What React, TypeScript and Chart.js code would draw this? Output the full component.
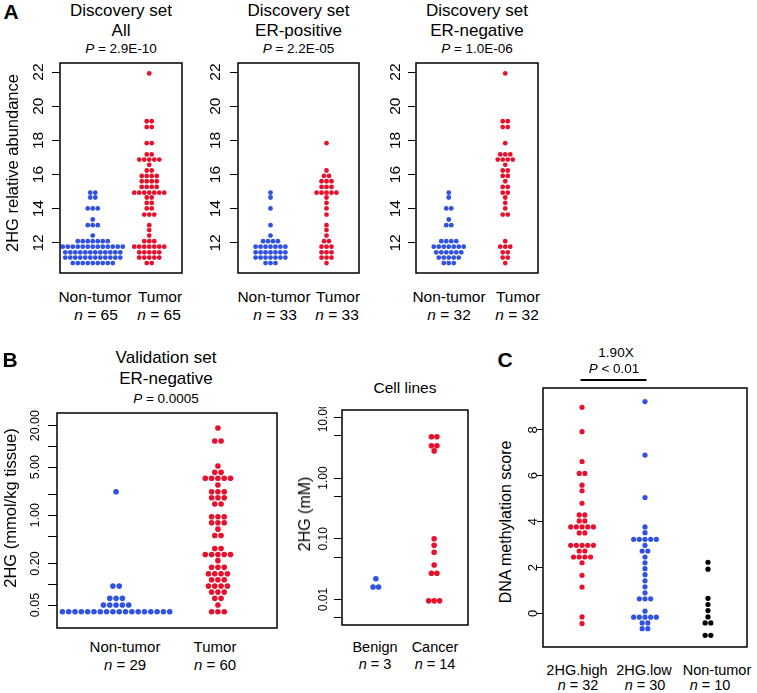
import React, { useEffect, useRef } from "react";
import { Chart, registerables } from "chart.js";
Chart.register(...registerables);

const FONT = '"Liberation Sans", Arial, Helvetica, sans-serif';
const RED = "#e8112d";
const BLUE = "#2f52e0";
const BLACK = "#000000";

// ---------- Panel A (Discovery set, 2HG relative abundance) ----------
const aTicks = [12, 14, 16, 18, 20, 22];
const aTickLabels = ["12", "14", "16", "18", "20", "22"];

const a1NonTumorLevels = [14.94, 14.66, 14.02, 13.37, 13.04, 12.43, 12.1, 11.78, 11.45, 11.14, 10.82];
const a1NonTumorCounts = [2, 2, 3, 1, 3, 1, 7, 13, 12, 12, 9];
const a1TumorLevels = [21.92, 19.12, 18.78, 17.84, 17.18, 16.88, 16.57, 16.24, 15.92, 15.61, 15.28, 14.94, 14.66, 14.34, 14.02, 13.66, 13.04, 12.75, 12.43, 12.1, 11.78, 11.45, 11.14, 10.82];
const a1TumorCounts = [1, 2, 2, 2, 2, 5, 1, 2, 4, 4, 4, 7, 2, 2, 2, 3, 1, 1, 1, 3, 7, 5, 5, 2];

const a2NonTumorLevels = [14.94, 14.66, 14.02, 13.04, 12.43, 12.1, 11.78, 11.45, 11.14, 10.82];
const a2NonTumorCounts = [1, 1, 1, 1, 1, 4, 7, 7, 7, 3];
const a2TumorLevels = [17.84, 16.24, 15.92, 15.61, 15.28, 14.94, 14.66, 14.34, 14.02, 13.66, 13.04, 12.75, 12.43, 12.1, 11.78, 11.45, 11.14, 10.82];
const a2TumorCounts = [1, 1, 2, 3, 3, 5, 1, 1, 1, 1, 1, 1, 1, 2, 3, 3, 3, 1];

const a3NonTumorLevels = [14.94, 14.66, 14.02, 13.37, 13.04, 12.1, 11.78, 11.45, 11.14, 10.82];
const a3NonTumorCounts = [1, 1, 2, 1, 2, 4, 7, 6, 5, 3];
const a3TumorLevels = [21.92, 19.12, 18.78, 17.84, 17.18, 16.88, 16.57, 16.24, 15.92, 15.61, 15.28, 14.94, 14.66, 14.34, 14.02, 13.66, 12.1, 11.78, 11.45, 11.14, 10.82];
const a3TumorCounts = [1, 2, 2, 1, 3, 4, 1, 2, 2, 1, 2, 2, 1, 1, 1, 2, 1, 3, 2, 2, 1];

// ---------- Panel B (Validation set, log scale) ----------
const b1Ticks = [0.05, 0.1, 0.2, 0.5, 1, 2, 5, 10, 20];
const b1TickLabels = ["0.05", "", "0.20", "", "1.00", "", "5.00", "", "20.00"];
const b1NonTumorLevels = [2.2, 0.094, 0.0625, 0.05, 0.04];
const b1NonTumorCounts = [1, 2, 3, 5, 18];
const b1TumorLevels = [18.5, 12.0, 5.2, 4.2, 3.45, 2.75, 2.2, 1.8, 1.46, 0.955, 0.78, 0.63, 0.51, 0.33, 0.27, 0.22, 0.176, 0.142, 0.116, 0.094, 0.077, 0.0625, 0.05, 0.04];
const b1TumorCounts = [1, 2, 1, 2, 5, 1, 3, 3, 2, 3, 3, 1, 2, 2, 5, 1, 3, 4, 3, 4, 3, 2, 1, 3];

// ---------- Panel B (Cell lines, log scale) ----------
const b2Ticks = [0.005, 0.01, 0.05, 0.1, 0.5, 1, 5, 10];
const b2TickLabels = ["", "0.01", "", "0.10", "", "1.00", "", "10.00"];
const b2BenignLevels = [0.022, 0.0161];
const b2BenignCounts = [1, 2];
const b2CancerLevels = [4.8, 3.4, 2.8, 0.1, 0.078, 0.06, 0.037, 0.027, 0.0095];
const b2CancerCounts = [2, 2, 1, 1, 1, 1, 1, 2, 3];

// ---------- Panel C (DNA methylation score) ----------
const cTicks = [0, 2, 4, 6, 8];
const cTickLabels = ["0", "2", "4", "6", "8"];
const cHighLevels = [8.98, 7.92, 6.62, 6.1, 5.59, 5.34, 4.8, 4.29, 4.03, 3.77, 3.51, 2.97, 2.72, 2.46, 2.21, 1.66, 1.15, -0.15, -0.44];
const cHighCounts = [1, 1, 1, 2, 1, 1, 1, 2, 2, 5, 2, 5, 2, 4, 1, 1, 1, 1, 1];
const cLowLevels = [9.23, 6.9, 5.05, 3.77, 3.52, 3.23, 2.97, 2.72, 2.46, 2.21, 1.95, 1.69, 1.42, 1.16, 0.9, 0.64, 0.1, -0.16, -0.41, -0.66];
const cLowCounts = [1, 1, 1, 1, 1, 5, 1, 2, 1, 1, 1, 1, 1, 1, 1, 3, 1, 5, 2, 2];
const cNonTumorLevels = [2.23, 1.93, 0.66, 0.39, 0.13, -0.15, -0.41, -0.95];
const cNonTumorCounts = [1, 1, 1, 1, 1, 1, 2, 2];

type Group = { cat: number; levels: number[]; counts: number[]; color: string };
type Panel = {
  key: string;
  box: [number, number, number, number];
  W: number;
  padTop: number;
  xMin: number;
  xMax: number;
  yType: "linear" | "logarithmic";
  yMin: number;
  yMax: number;
  ticks: number[];
  tickLabels: string[];
  tickFont: number;
  tickLen: number;
  gap: number;
  groups: Group[];
  spacing: number;
  radius: number;
  bracket?: [number, number];
};

function swarm(levels: number[], counts: number[], cat: number, spacing: number) {
  const pts: { x: number; y: number }[] = [];
  levels.forEach((lv, i) => {
    const n = counts[i];
    for (let j = 0; j < n; j++) pts.push({ x: cat + (j - (n - 1) / 2) * spacing, y: lv });
  });
  return pts;
}

const panels: Panel[] = [
  {
    key: "a1", box: [60, 63, 182, 273], W: 42, padTop: 3, xMin: 0.42, xMax: 2.58,
    yType: "linear", yMin: 10.24, yMax: 22.53, ticks: aTicks, tickLabels: aTickLabels,
    tickFont: 15.5, tickLen: 8, gap: 21, spacing: 0.0885, radius: 2.4,
    groups: [
      { cat: 1, levels: a1NonTumorLevels, counts: a1NonTumorCounts, color: BLUE },
      { cat: 2, levels: a1TumorLevels, counts: a1TumorCounts, color: RED },
    ],
  },
  {
    key: "a2", box: [238, 63, 359, 273], W: 42, padTop: 3, xMin: 0.42, xMax: 2.58,
    yType: "linear", yMin: 10.24, yMax: 22.53, ticks: aTicks, tickLabels: aTickLabels,
    tickFont: 15.5, tickLen: 8, gap: 22, spacing: 0.0885, radius: 2.4,
    groups: [
      { cat: 1, levels: a2NonTumorLevels, counts: a2NonTumorCounts, color: BLUE },
      { cat: 2, levels: a2TumorLevels, counts: a2TumorCounts, color: RED },
    ],
  },
  {
    key: "a3", box: [416, 63, 538, 273], W: 42, padTop: 3, xMin: 0.42, xMax: 2.58,
    yType: "linear", yMin: 10.24, yMax: 22.53, ticks: aTicks, tickLabels: aTickLabels,
    tickFont: 15.5, tickLen: 8, gap: 20, spacing: 0.0885, radius: 2.4,
    groups: [
      { cat: 1, levels: a3NonTumorLevels, counts: a3NonTumorCounts, color: BLUE },
      { cat: 2, levels: a3TumorLevels, counts: a3TumorCounts, color: RED },
    ],
  },
  {
    key: "b1", box: [57, 413, 277, 628], W: 40, padTop: 3, xMin: 0.42, xMax: 2.58,
    yType: "logarithmic", yMin: 0.0232, yMax: 30.5, ticks: b1Ticks, tickLabels: b1TickLabels,
    tickFont: 12.5, tickLen: 9, gap: 21, spacing: 0.062, radius: 2.8,
    groups: [
      { cat: 1, levels: b1NonTumorLevels, counts: b1NonTumorCounts, color: BLUE },
      { cat: 2, levels: b1TumorLevels, counts: b1TumorCounts, color: RED },
    ],
  },
  {
    key: "b2", box: [342, 410, 468, 625], W: 36, padTop: 3, xMin: 0.42, xMax: 2.58,
    yType: "logarithmic", yMin: 0.0038, yMax: 13.2, ticks: b2Ticks, tickLabels: b2TickLabels,
    tickFont: 12, tickLen: 8, gap: 18, spacing: 0.094, radius: 2.8,
    groups: [
      { cat: 1, levels: b2BenignLevels, counts: b2BenignCounts, color: BLUE },
      { cat: 2, levels: b2CancerLevels, counts: b2CancerCounts, color: RED },
    ],
  },
  {
    key: "c", box: [543, 388, 747, 647], W: 24, padTop: 12, xMin: 0.38, xMax: 3.62,
    yType: "linear", yMin: -1.46, yMax: 9.82, ticks: cTicks, tickLabels: cTickLabels,
    tickFont: 13, tickLen: 6, gap: 10, spacing: 0.09, radius: 2.6, bracket: [1, 2],
    groups: [
      { cat: 1, levels: cHighLevels, counts: cHighCounts, color: RED },
      { cat: 2, levels: cLowLevels, counts: cLowCounts, color: BLUE },
      { cat: 3, levels: cNonTumorLevels, counts: cNonTumorCounts, color: BLACK },
    ],
  },
];

const boxPlugin = {
  id: "boxFrame",
  afterDraw(chart: any) {
    const { ctx, chartArea } = chart;
    ctx.save();
    ctx.strokeStyle = "#000";
    ctx.lineWidth = 1.5;
    ctx.strokeRect(chartArea.left, chartArea.top, chartArea.right - chartArea.left, chartArea.bottom - chartArea.top);
    ctx.restore();
  },
};

function makeBracket(a: number, b: number) {
  return {
    id: "bracket",
    afterDraw(chart: any) {
      const { ctx, chartArea, scales } = chart;
      const x1 = scales.x.getPixelForValue(a);
      const x2 = scales.x.getPixelForValue(b);
      const y = chartArea.top - 8;
      ctx.save();
      ctx.strokeStyle = "#000";
      ctx.lineWidth = 2;
      ctx.beginPath();
      ctx.moveTo(x1 - 1.5, y);
      ctx.lineTo(x2 + 1.5, y);
      ctx.stroke();
      ctx.restore();
    },
  };
}

function PanelChart({ p }: { p: Panel }) {
  const ref = useRef<HTMLCanvasElement>(null);
  const [L, T, R, B] = p.box;
  const padR = 3;
  const padB = 3;
  const w = p.W + (R - L) + padR;
  const h = p.padTop + (B - T) + padB;

  useEffect(() => {
    const canvas = ref.current;
    if (!canvas) return;
    const mctx = document.createElement("canvas").getContext("2d")!;
    mctx.font = `${p.tickFont}px ${FONT}`;
    const widest = Math.max(...p.tickLabels.map((s) => mctx.measureText(s).width));
    const pad = p.gap - p.tickLen - widest / 2;

    const plugins: any[] = [boxPlugin];
    if (p.bracket) plugins.push(makeBracket(p.bracket[0], p.bracket[1]));

    const chart = new Chart(canvas, {
      type: "scatter",
      data: {
        datasets: p.groups.map((g) => ({
          data: swarm(g.levels, g.counts, g.cat, p.spacing),
          backgroundColor: g.color,
          borderWidth: 0,
          pointRadius: p.radius,
          pointHoverRadius: p.radius,
        })),
      },
      options: {
        animation: false,
        responsive: false,
        maintainAspectRatio: false,
        events: [],
        layout: { padding: { left: 0, top: p.padTop, right: padR, bottom: padB } },
        plugins: { legend: { display: false }, tooltip: { enabled: false } },
        scales: {
          x: { type: "linear", min: p.xMin, max: p.xMax, display: false },
          y: {
            type: p.yType,
            min: p.yMin,
            max: p.yMax,
            afterBuildTicks: (s: any) => {
              s.ticks = p.ticks.map((v) => ({ value: v }));
            },
            afterFit: (s: any) => {
              s.width = p.W;
              s.paddingTop = 0;
              s.paddingBottom = 0;
            },
            border: { display: false },
            grid: {
              display: true,
              drawOnChartArea: false,
              drawTicks: true,
              tickLength: p.tickLen,
              color: "#000",
              lineWidth: 1,
            },
            ticks: {
              autoSkip: false,
              minRotation: 90,
              maxRotation: 90,
              crossAlign: "center",
              padding: pad,
              color: "#000",
              font: { family: FONT, size: p.tickFont },
              callback: (_v: any, i: number) => p.tickLabels[i],
            },
          },
        },
      } as any,
      plugins,
    });
    return () => chart.destroy();
  }, []);

  return (
    <canvas
      ref={ref}
      width={w}
      height={h}
      style={{ position: "absolute", left: L - p.W, top: T - p.padTop, width: w, height: h }}
    />
  );
}

function Txt({
  x, y, size, children, bold, rotate,
}: { x: number; y: number; size: number; children: React.ReactNode; bold?: boolean; rotate?: boolean }) {
  return (
    <div
      style={{
        position: "absolute",
        left: x,
        top: y,
        transform: `translate(-50%, -50%)${rotate ? " rotate(-90deg)" : ""}`,
        fontSize: size,
        lineHeight: 1,
        fontFamily: FONT,
        fontWeight: bold ? "bold" : "normal",
        whiteSpace: "nowrap",
        color: "#000",
      }}
    >
      {children}
    </div>
  );
}

const N = ({ v }: { v: string }) => (
  <>
    <i>n</i> = {v}
  </>
);
const P = ({ v }: { v: string }) => (
  <>
    <i>P</i> {v}
  </>
);

export default function App() {
  return (
    <div style={{ position: "absolute", left: 0, top: 0, width: 757, height: 693, background: "#fff", overflow: "hidden" }}>
      {panels.map((p) => (
        <PanelChart key={p.key} p={p} />
      ))}

      {/* Panel A */}
      <Txt x={11} y={11} size={21} bold>A</Txt>
      <Txt x={121} y={10} size={17}>Discovery set</Txt>
      <Txt x={121} y={29.5} size={17}>All</Txt>
      <Txt x={121} y={48.5} size={13.5}><P v="= 2.9E-10" /></Txt>
      <Txt x={298.5} y={10} size={17}>Discovery set</Txt>
      <Txt x={298.5} y={29.5} size={17}>ER-positive</Txt>
      <Txt x={298.5} y={48.5} size={13.5}><P v="= 2.2E-05" /></Txt>
      <Txt x={477} y={10} size={17}>Discovery set</Txt>
      <Txt x={477} y={29.5} size={17}>ER-negative</Txt>
      <Txt x={477} y={48.5} size={13.5}><P v="= 1.0E-06" /></Txt>
      <Txt x={12} y={163} size={16.5} rotate>2HG relative abundance</Txt>

      <Txt x={95} y={297} size={15.5}>Non-tumor</Txt>
      <Txt x={160} y={297} size={15.5}>Tumor</Txt>
      <Txt x={96} y={315} size={15.5}><N v="65" /></Txt>
      <Txt x={159} y={315} size={15.5}><N v="65" /></Txt>
      <Txt x={274} y={297} size={15.5}>Non-tumor</Txt>
      <Txt x={338} y={297} size={15.5}>Tumor</Txt>
      <Txt x={275} y={315} size={15.5}><N v="33" /></Txt>
      <Txt x={337} y={315} size={15.5}><N v="33" /></Txt>
      <Txt x={449} y={297} size={15.5}>Non-tumor</Txt>
      <Txt x={518} y={297} size={15.5}>Tumor</Txt>
      <Txt x={449} y={315} size={15.5}><N v="32" /></Txt>
      <Txt x={517} y={315} size={15.5}><N v="32" /></Txt>

      {/* Panel B */}
      <Txt x={10} y={359} size={21} bold>B</Txt>
      <Txt x={166} y={357} size={17}>Validation set</Txt>
      <Txt x={166} y={378} size={17}>ER-negative</Txt>
      <Txt x={166} y={398.5} size={13.5}><P v="= 0.0005" /></Txt>
      <Txt x={10} y={508} size={16.5} rotate>2HG (mmol/kg tissue)</Txt>
      <Txt x={125} y={646} size={15}>Non-tumor</Txt>
      <Txt x={125} y={663.5} size={15}><N v="29" /></Txt>
      <Txt x={215} y={646} size={15}>Tumor</Txt>
      <Txt x={215} y={663.5} size={15}><N v="60" /></Txt>

      <Txt x={405} y={388} size={15.5}>Cell lines</Txt>
      <Txt x={305} y={514} size={16} rotate>2HG (mM)</Txt>
      <Txt x={375} y={647} size={14.5}>Benign</Txt>
      <Txt x={375} y={663.5} size={14.5}><N v="3" /></Txt>
      <Txt x={435} y={647} size={14.5}>Cancer</Txt>
      <Txt x={435} y={663.5} size={14.5}><N v="14" /></Txt>

      {/* Panel C */}
      <Txt x={505} y={359} size={21} bold>C</Txt>
      <Txt x={616} y={352.5} size={13.5}>1.90X</Txt>
      <Txt x={614} y={368.5} size={13.5}><P v="< 0.01" /></Txt>
      <Txt x={506} y={522} size={16} rotate>DNA methylation score</Txt>
      <Txt x={577} y={670} size={14.5}>2HG.high</Txt>
      <Txt x={578} y={685} size={14.5}><N v="32" /></Txt>
      <Txt x={644} y={670} size={14.5}>2HG.low</Txt>
      <Txt x={645} y={685} size={14.5}><N v="30" /></Txt>
      <Txt x={717} y={670} size={14.5}>Non-tumor</Txt>
      <Txt x={710} y={685} size={14.5}><N v="10" /></Txt>
    </div>
  );
}
